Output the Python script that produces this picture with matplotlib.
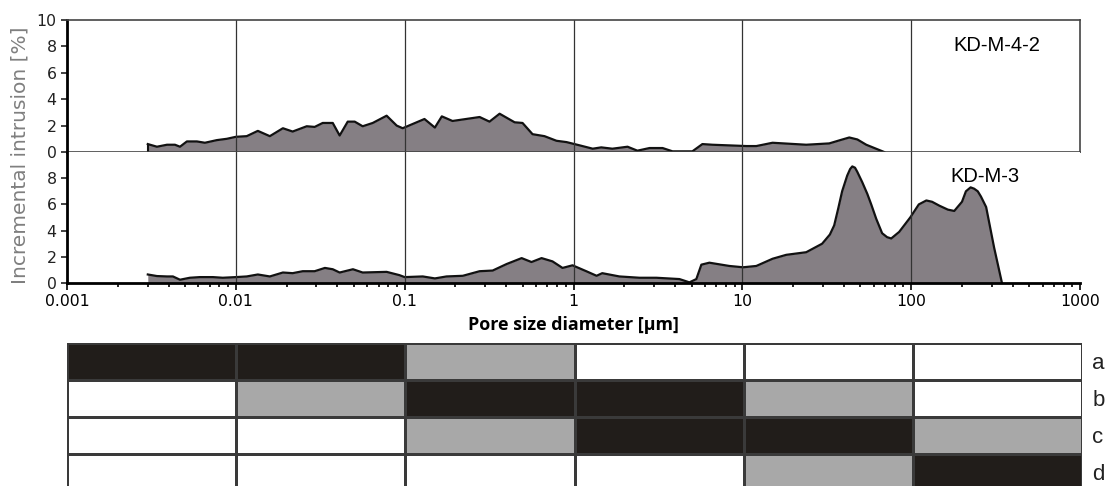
import numpy as np
import matplotlib.pyplot as plt
from matplotlib.colors import ListedColormap

plt.rcParams['font.family'] = ['Liberation Sans', 'DejaVu Sans']

# KD-M-4-2 (diametro en um, intrusion en %)
d_top = [0.00301, 0.00341, 0.00391, 0.00436, 0.00467, 0.00513, 0.00588, 0.00656, 0.00772, 0.00885,
         0.0100, 0.0116, 0.0135, 0.0159, 0.0190, 0.0217, 0.0263, 0.0293, 0.0327, 0.0375,
         0.0412, 0.0460, 0.0506, 0.0564, 0.0647, 0.0782, 0.0897, 0.0973, 0.131, 0.151,
         0.166, 0.192, 0.278, 0.318, 0.365, 0.448, 0.499, 0.572, 0.673, 0.793,
         0.909, 1.09, 1.30, 1.46, 1.70, 2.09, 2.39, 2.82, 3.37, 3.86,
         5.06, 5.80, 6.64, 10.6, 12.1, 15.1, 23.9, 32.7, 38.0, 43.0, 48.0, 54.2, 69.2]
v_top = [0.6, 0.4, 0.55, 0.55, 0.4, 0.8, 0.8, 0.7, 0.9, 1.0,
         1.15, 1.2, 1.6, 1.2, 1.8, 1.55, 1.95, 1.9, 2.2, 2.2,
         1.25, 2.3, 2.3, 1.95, 2.2, 2.75, 2.0, 1.8, 2.5, 1.85,
         2.7, 2.35, 2.65, 2.3, 2.9, 2.25, 2.2, 1.35, 1.2, 0.85,
         0.75, 0.5, 0.25, 0.35, 0.25, 0.4, 0.1, 0.3, 0.3, 0.05,
         0.05, 0.6, 0.55, 0.45, 0.45, 0.7, 0.55, 0.65, 0.9, 1.1, 0.95, 0.55, 0.0]

# KD-M-3
d_bot = [0.00301, 0.00341, 0.00391, 0.00424, 0.00467, 0.00534, 0.00612, 0.00731, 0.00837, 0.0100,
         0.0116, 0.0135, 0.0159, 0.0190, 0.0217, 0.0249, 0.0293, 0.0337, 0.0375, 0.0412,
         0.0494, 0.0564, 0.0782, 0.0931, 0.100, 0.128, 0.151, 0.177, 0.221, 0.278,
         0.332, 0.402, 0.493, 0.564, 0.647, 0.751, 0.861, 0.987, 1.19, 1.37,
         1.48, 1.87, 2.46, 3.10, 4.24, 4.86, 5.34, 5.72, 6.38, 8.38,
         10.1, 12.1, 15.1, 18.2, 23.9, 29.7, 33.0, 35.0, 37.0, 39.0, 41.8,
         43.5, 44.8, 46.5, 47.9, 51.3, 55.0, 58.0, 62.1, 67.3, 72.0, 76.2, 84.9, 98.7, 111,
         123, 133, 147, 165, 180, 200, 211, 225, 236, 248, 259, 278, 310, 345]
v_bot = [0.65, 0.53, 0.5, 0.5, 0.25, 0.4, 0.45, 0.45, 0.4, 0.45,
         0.5, 0.65, 0.5, 0.8, 0.75, 0.9, 0.9, 1.15, 1.05, 0.8,
         1.05, 0.8, 0.85, 0.6, 0.45, 0.5, 0.35, 0.5, 0.55, 0.9,
         0.95, 1.45, 1.9, 1.6, 1.9, 1.65, 1.15, 1.35, 0.9, 0.55,
         0.75, 0.5, 0.4, 0.4, 0.3, 0.05, 0.3, 1.4, 1.55, 1.3,
         1.2, 1.3, 1.85, 2.15, 2.35, 3.0, 3.7, 4.4, 5.7, 7.0, 8.2,
         8.7, 8.9, 8.8, 8.5, 7.7, 6.8, 6.0, 4.9, 3.8, 3.5, 3.4, 3.9, 5.0, 6.0,
         6.3, 6.2, 5.9, 5.6, 5.5, 6.2, 7.0, 7.3, 7.2, 7.0, 6.6, 5.8, 2.7, 0.0]

# tabla de clases (0 blanco, 1 gris, 2 negro)
bordes = [0.001, 0.01, 0.1, 1, 10, 100, 1000]
filas = ['a', 'b', 'c', 'd']
tabla = [[2, 2, 1, 0, 0, 0],
         [0, 1, 2, 2, 1, 0],
         [0, 0, 1, 2, 2, 1],
         [0, 0, 0, 0, 1, 2]]

relleno = '#857f84'
W, H = 1110, 486
fig = plt.figure(figsize=(W / 100, H / 100), dpi=100)

def px(l, t, r, b):
    return [l / W, 1 - b / H, (r - l) / W, (b - t) / H]

ax1 = fig.add_axes(px(67, 20, 1080, 152))
ax2 = fig.add_axes(px(67, 152, 1080, 283))
ax3 = fig.add_axes(px(67, 343, 1082, 491))

for ax, d, v in [(ax1, d_top, v_top), (ax2, d_bot, v_bot)]:
    ax.set_xscale('log')
    ax.set_xlim(0.001, 1000)
    ax.set_ylim(0, 10)
    ax.fill_between(d, v, 0, color=relleno, lw=0)
    ax.plot(d, v, color='#111111', lw=1.6, solid_joinstyle='round')
    for xd in bordes[1:-1]:
        ax.axvline(xd, color='#333333', lw=0.9)
    ax.spines['left'].set_linewidth(2)
    ax.spines['left'].set_color('black')
    ax.tick_params(axis='y', direction='out', length=4, width=1.2, labelsize=11.3, colors='#222222')
    for t in ax.get_yticklabels():
        t.set_family('DejaVu Sans')

ax1.vlines(d_top[0], 0, v_top[0], color='#111111', lw=1.5)
ax1.set_yticks([0, 2, 4, 6, 8, 10])
ax1.set_xticks([])
ax1.set_xticks([], minor=True)
for s in ['top', 'right', 'bottom']:
    ax1.spines[s].set_color('#444444')
    ax1.spines[s].set_linewidth(1.2)
ax1.text(0.918, 0.81, 'KD-M-4-2', transform=ax1.transAxes, ha='center', va='center', fontsize=14.5)

ax2.set_yticks([0, 2, 4, 6, 8])
ax2.spines['top'].set_visible(False)
ax2.spines['right'].set_visible(False)
ax2.spines['bottom'].set_linewidth(2)
ax2.tick_params(axis='x', which='major', direction='out', length=5, width=1.2, labelsize=11.3, pad=3)
ax2.tick_params(axis='x', which='minor', direction='out', length=3, width=1.2)
ax2.set_xticks(bordes)
ax2.set_xticklabels(['0.001', '0.01', '0.1', '1', '10', '100', '1000'], family='DejaVu Sans')
ax2.text(0.906, 0.81, 'KD-M-3', transform=ax2.transAxes, ha='center', va='center', fontsize=14.5)
ax2.set_xlabel('Pore size diameter [µm]', fontsize=12.9, fontweight='bold', family='Open Sans', labelpad=5)
for t in ax2.get_yticklabels():
    t.set_family('DejaVu Sans')

fig.text(20 / W, 1 - 155 / H, 'Incremental intrusion [%]', rotation=90, ha='center', va='center',
         fontsize=14.5, family='DejaVu Sans', color='#7f7f7f')

# tabla
cmap = ListedColormap(['white', '#a8a8a8', '#211d1a'])
ax3.pcolormesh(bordes, np.arange(len(filas) + 1), np.array(tabla), cmap=cmap, vmin=0, vmax=2,
               edgecolor='#3a3a3a', lw=0.8)
ax3.set_xscale('log')
ax3.set_xlim(0.001, 1000)
ax3.set_ylim(len(filas), 0)
ax3.axis('off')
for i, f in enumerate(filas):
    ax3.text(1.01, 1 - (i + 0.55) / len(filas), f, transform=ax3.transAxes, ha='left', va='center',
             fontsize=16, color='#222222', family=['Liberation Sans Narrow', 'Liberation Sans'])

fig.savefig('out.png', dpi=100)
